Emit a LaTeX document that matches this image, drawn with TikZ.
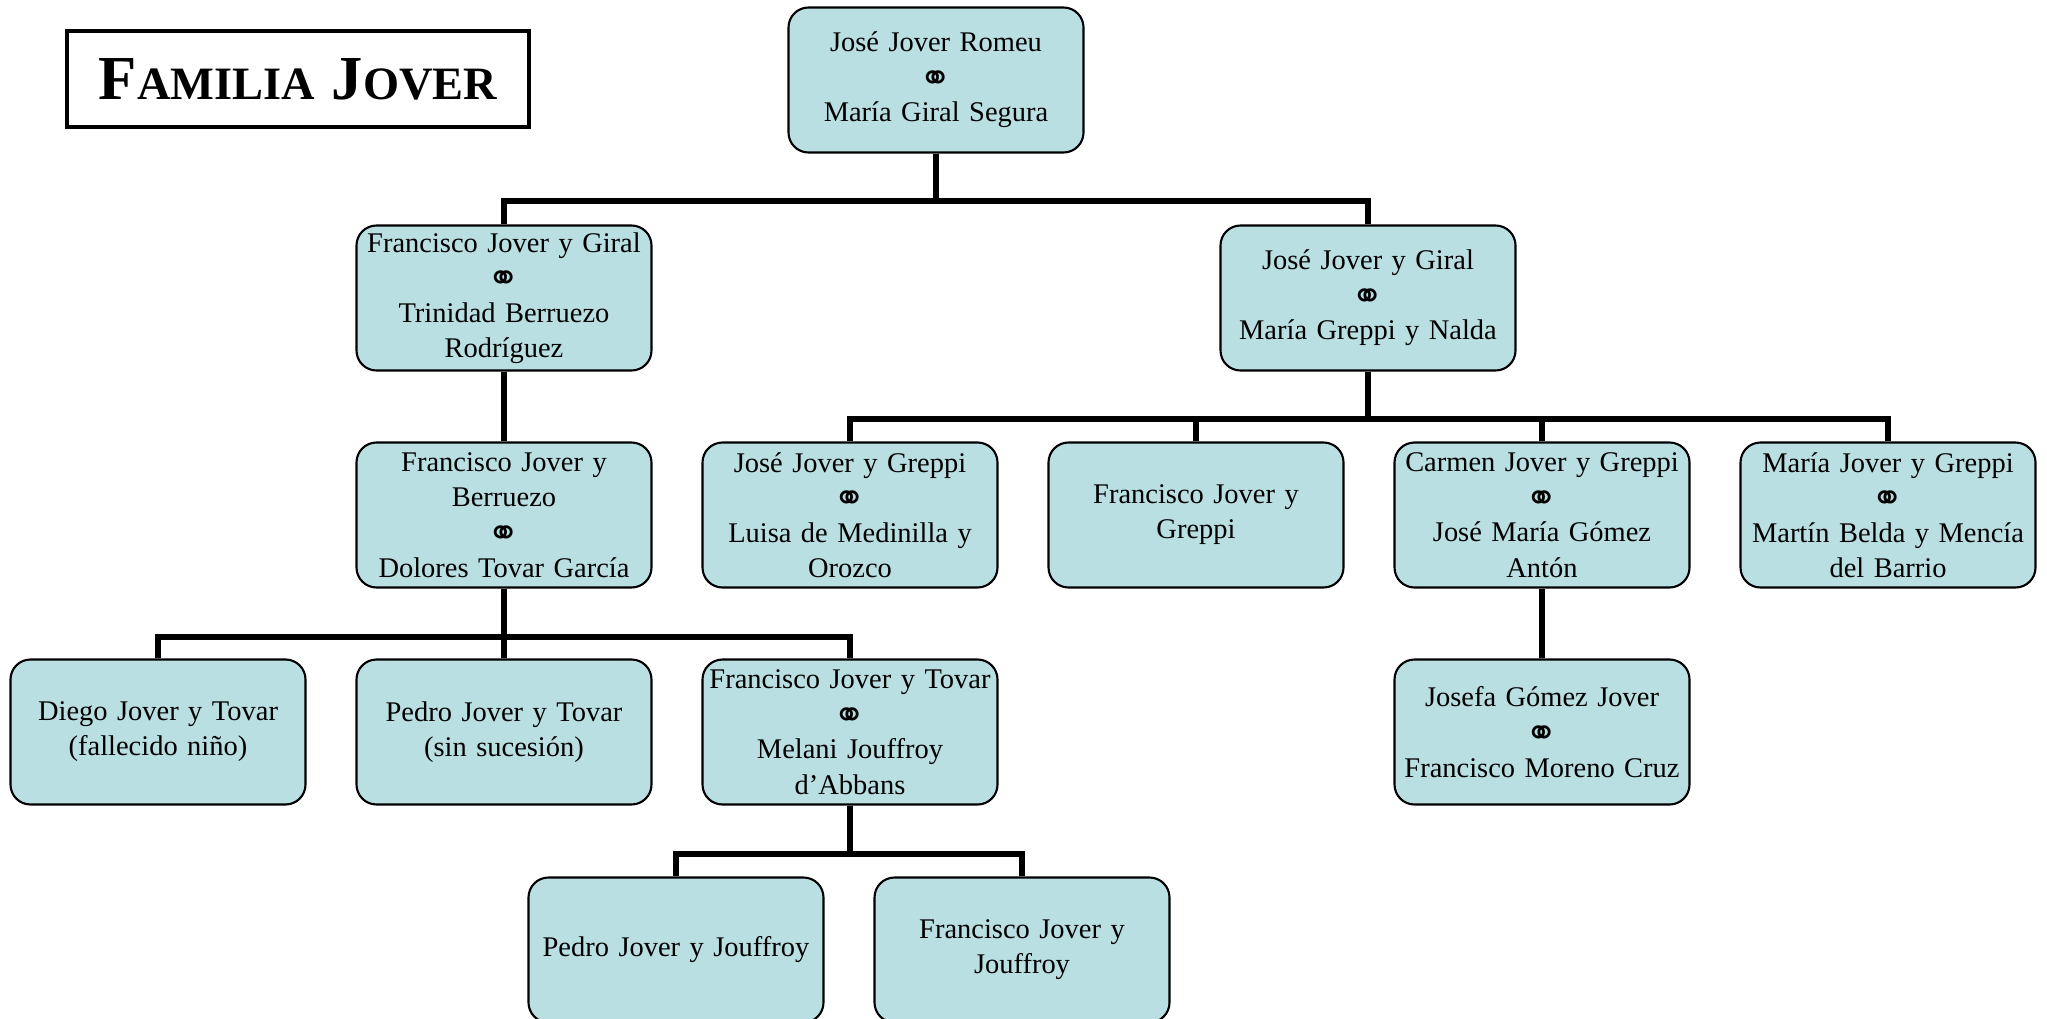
\documentclass[tikz,border=0pt]{standalone}
\usepackage{fontspec}
\setmainfont{Liberation Serif}
\newfontfamily\ringfont{DejaVu Sans}
\definecolor{boxfill}{RGB}{186,223,227}
\newcommand{\wedring}{\raisebox{-1.3pt}[7pt][0pt]{\ringfont\bfseries\fontsize{11}{10.5}\selectfont ⚭}}
\newcommand{\capword}[2]{{\fontsize{17.8}{20}\selectfont #1}{\fontsize{13.2}{15}\selectfont #2}}
\begin{document}
\begin{tikzpicture}[
    mybox/.style={rectangle, draw=black, line width=0.6pt, fill=boxfill, minimum width=2.95cm, minimum height=1.45cm, text width=2.9cm, font=\fontsize{8.1}{10}\selectfont, rounded corners=0.2cm, align=center, inner sep=0pt},
    mytitle/.style={rectangle, draw=black, line width=1.1pt, minimum width=4.62cm, minimum height=0.96cm, font=\bfseries},
    mylink/.style={line width=1.8pt},
]
\useasboundingbox (0,0) rectangle (20.47,10.18);

\node[mytitle] (title) at (2.98,9.39) {\capword{F}{AMILIA}\hspace{0.17cm}\capword{J}{OVER}};

\node[mybox] (root) at (9.36,9.38) {José Jover Romeu\\\wedring\\María Giral Segura};

\node[mybox] (fjg) at (5.04,7.20) {Francisco Jover y Giral\\\wedring\\Trinidad Berruezo\\Rodríguez};
\node[mybox] (jjg) at (13.68,7.20) {José Jover y Giral\\\wedring\\María Greppi y Nalda};

\node[mybox] (fjb)  at (5.04,5.03)  {Francisco Jover y\\Berruezo\\\wedring\\Dolores Tovar García};
\node[mybox] (jjgr) at (8.50,5.03)  {José Jover y Greppi\\\wedring\\Luisa de Medinilla y\\Orozco};
\node[mybox] (fjgr) at (11.96,5.03) {Francisco Jover y\\Greppi};
\node[mybox] (cjg)  at (15.42,5.03) {Carmen Jover y Greppi\\\wedring\\José María Gómez\\Antón};
\node[mybox] (mjg)  at (18.88,5.03) {María Jover y Greppi\\\wedring\\Martín Belda y Mencía\\del Barrio};

\node[mybox] (djt) at (1.58,2.86)  {Diego Jover y Tovar\\(fallecido niño)};
\node[mybox] (pjt) at (5.04,2.86)  {Pedro Jover y Tovar\\(sin sucesión)};
\node[mybox] (fjt) at (8.50,2.86)  {Francisco Jover y Tovar\\\wedring\\Melani Jouffroy\\d’Abbans};
\node[mybox] (jgj) at (15.42,2.86) {Josefa Gómez Jover\\\wedring\\Francisco Moreno Cruz};

\node[mybox] (pjj) at (6.76,0.68)  {Pedro Jover y Jouffroy};
\node[mybox] (fjj) at (10.22,0.68) {Francisco Jover y\\Jouffroy};

% descendants
\draw[mylink] (root.south) -- ++(0,-0.475) -| (fjg.north);
\draw[mylink] (root.south) -- ++(0,-0.475) -| (jjg.north);

\draw[mylink] (fjg) -- (fjb);
\foreach \kid in {jjgr,fjgr,cjg,mjg}
    \draw[mylink] (jjg.south) -- ++(0,-0.475) -| (\kid.north);

\foreach \kid in {djt,pjt,fjt}
    \draw[mylink] (fjb.south) -- ++(0,-0.485) -| (\kid.north);
\draw[mylink] (cjg) -- (jgj);

\draw[mylink] (fjt.south) -- ++(0,-0.485) -| (pjj.north);
\draw[mylink] (fjt.south) -- ++(0,-0.485) -| (fjj.north);
\end{tikzpicture}
\end{document}
